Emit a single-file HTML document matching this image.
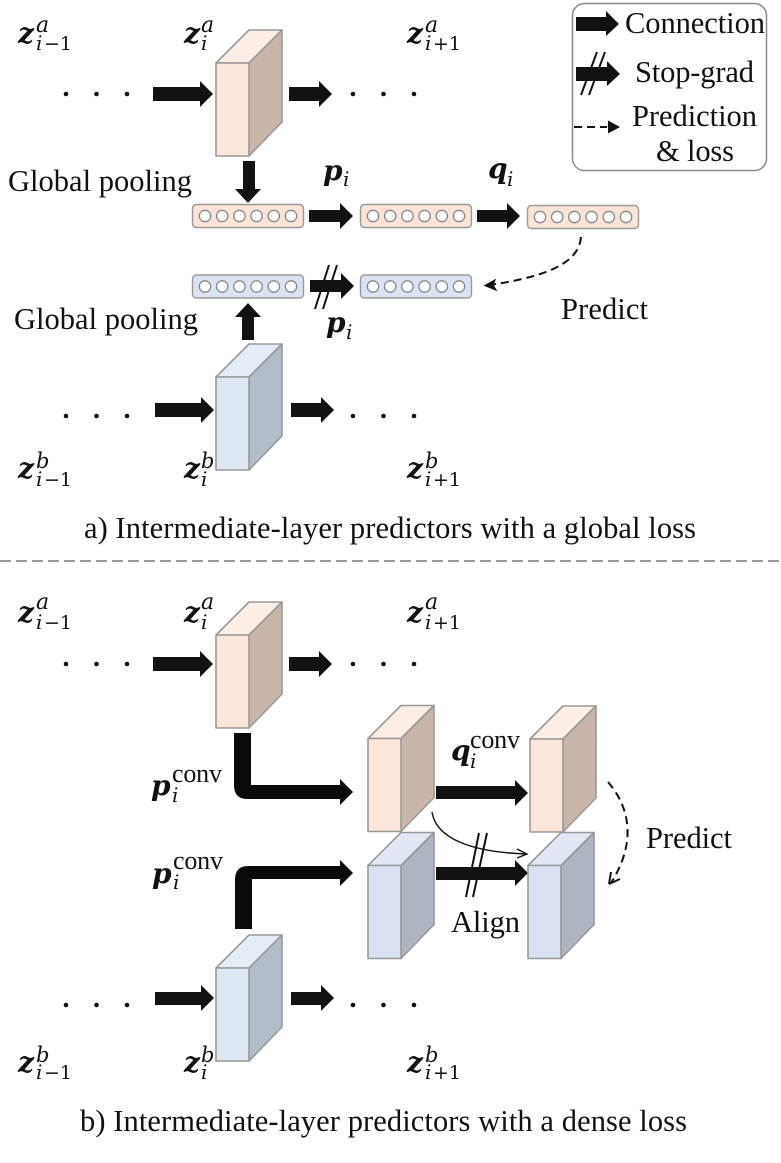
<!DOCTYPE html>
<html><head><meta charset="utf-8"><style>
html,body{margin:0;padding:0;background:#fff}
svg{display:block}
text{fill:#111;white-space:pre}
.t{font-family:"Liberation Serif",serif;font-size:30.5px}
.z{font-family:"DejaVu Serif",serif;font-weight:bold;font-style:italic;font-size:28px}
.a{font-family:"DejaVu Serif",serif;font-style:italic;font-size:22px}
.b{font-family:"DejaVu Serif",serif;font-style:italic;font-size:21px}
.s{font-family:"DejaVu Serif",serif;font-style:italic;font-size:20px}
.d{font-family:"DejaVu Serif",serif;font-size:19px}
.n{font-family:"Liberation Serif",serif;font-size:26px}
</style></head><body>
<svg xmlns="http://www.w3.org/2000/svg" width="781" height="1163" viewBox="0 0 781 1163">
<defs>
<g id="cp" stroke="#999" stroke-width="1.6" stroke-linejoin="round">
<path d="M0 33L33 0H66L33 33Z" fill="#fceee4"/><path d="M33 33L66 0V92L33 126Z" fill="#c9b6a9"/><rect x="0" y="33" width="33" height="93" fill="#fce5d9"/></g>
<g id="cb" stroke="#999" stroke-width="1.6" stroke-linejoin="round">
<path d="M0 33L33 0H66L33 33Z" fill="#e3edf7"/><path d="M33 33L66 0V92L33 126Z" fill="#b1bdc8"/><rect x="0" y="33" width="33" height="93" fill="#dde8f5"/></g>
<g id="cd" stroke="#999" stroke-width="1.6" stroke-linejoin="round">
<path d="M0 33L33 0H66L33 33Z" fill="#e1e7f4"/><path d="M33 33L66 0V92L33 126Z" fill="#adb5c3"/><rect x="0" y="33" width="33" height="93" fill="#d9e2f3"/></g>
<g id="dots" fill="#111"><circle cx="0" cy="0" r="2.3"/><circle cx="30.5" cy="0" r="2.3"/><circle cx="61" cy="0" r="2.3"/></g>
<g id="circ" fill="#fff" stroke="#8a8a8a" stroke-width="1.3"><circle cx="13" cy="12" r="5.7"/><circle cx="30.2" cy="12" r="5.7"/><circle cx="47.4" cy="12" r="5.7"/><circle cx="64.6" cy="12" r="5.7"/><circle cx="81.8" cy="12" r="5.7"/><circle cx="99" cy="12" r="5.7"/></g>
<g id="bp"><rect x="0.5" y="0.5" width="111" height="23" rx="4" fill="#fbe3d6" stroke="#9a9a9a" stroke-width="1.4"/><use href="#circ"/></g>
<g id="bb"><rect x="0.5" y="0.5" width="111" height="23" rx="4" fill="#dae3f3" stroke="#9a9a9a" stroke-width="1.4"/><use href="#circ"/></g>
</defs>

<!-- top section cubes -->
<use href="#cp" x="216" y="30"/>
<use href="#cb" x="216" y="344"/>
<!-- bars -->
<use href="#bp" x="192" y="204"/><use href="#bp" x="360" y="204"/><use href="#bp" x="527" y="205"/>
<use href="#bb" x="192" y="274.5"/><use href="#bb" x="360" y="274.5"/>
<!-- dots -->
<use href="#dots" x="66" y="94"/><use href="#dots" x="353" y="94"/>
<use href="#dots" x="66" y="416"/><use href="#dots" x="353" y="416"/>
<use href="#dots" x="66" y="664"/><use href="#dots" x="353" y="664"/>
<use href="#dots" x="66" y="1005"/><use href="#dots" x="353" y="1005"/>

<g fill="#111">
<!-- top arrows -->
<path d="M153 87H200V81L213 94L200 107V101H153Z"/>
<path d="M289 87H319V81L332 94L319 107V101H289Z"/>
<path d="M243 161H255V189H261L248 203L235 189H243Z"/>
<path d="M309 210H340V203L353 216L340 229V222H309Z"/>
<path d="M477 210H507V203L520 216L507 229V222H477Z"/>
<path d="M310 280H341V273L354 286L341 299V292H310Z"/>
<path d="M242 340H254V317H261L248 303L235 317H242Z"/>
<path d="M155 403H201V397L214 410L201 423V417H155Z"/>
<path d="M291 403H321V397L334 410L321 423V417H291Z"/>
<!-- bottom straight arrows -->
<path d="M153 657H200V651L213 664L200 677V671H153Z"/>
<path d="M289 657H319V651L332 664L319 677V671H289Z"/>
<path d="M155 992H201V985L214 998L201 1011V1005H155Z"/>
<path d="M291 992H321V985L334 998L321 1011V1005H291Z"/>
<path d="M436 786H515V780L528 793L515 806V799H436Z"/>
<path d="M436 867H515V860L528 873L515 886V880H436Z"/>
</g>
<!-- elbows -->
<path d="M234 733H251V785H340V779L353 792L340 805V799H247Q234 799 234 785Z" fill="#0a0a0a"/>
<path d="M235 929H252V879H340V886L353 873L340 860V866H248Q235 866 235 880Z" fill="#0a0a0a"/>

<!-- bottom cubes -->
<use href="#cp" x="216" y="602"/>
<use href="#cb" x="216" y="935"/>
<use href="#cp" x="368" y="705.500"/>
<use href="#cd" x="368" y="832.500"/>
<use href="#cp" x="530" y="706"/>
<use href="#cd" x="528" y="832.500"/>

<!-- stop-grad slashes -->
<g stroke="#111" stroke-width="2" fill="none">
<path d="M315 309L329 265M323 309L337 265"/>
<path d="M466 897L479 833M473 897L487 833"/>
<path d="M581 95L597 52M589 95L605 52"/>
</g>

<!-- thin curve -->
<path d="M432 812C436 838 470 852 526 854" fill="none" stroke="#111" stroke-width="1.4"/>
<path d="M517 849L527 854L517 858" fill="none" stroke="#111" stroke-width="1.4"/>

<!-- dashed predict top -->
<path d="M581 237C579 262 550 276 490 285" fill="none" stroke="#111" stroke-width="2" stroke-dasharray="8 5"/>
<path d="M485 285.500L495 280L493 285L496 290Z" fill="#111" stroke="#111" stroke-width="1.2"/>
<!-- dashed predict bottom -->
<path d="M608 782C632 810 635 845 611 883" fill="none" stroke="#111" stroke-width="2" stroke-dasharray="8 5"/>
<path d="M609 884L611 872M609 884L620 879" fill="none" stroke="#111" stroke-width="2"/>

<!-- separator -->
<line x1="0" y1="561" x2="781" y2="561" stroke="#777" stroke-width="1.6" stroke-dasharray="11 5"/>

<!-- legend -->
<rect x="572.500" y="3.500" width="194" height="167" rx="12" fill="none" stroke="#8c8c8c" stroke-width="1.5"/>
<path d="M576 17H606V11L619 24L606 36V31H576Z" fill="#111"/>
<path d="M576 67H607V61L620 74L607 86V81H576Z" fill="#111"/>
<path d="M574 127H607" stroke="#111" stroke-width="2" stroke-dasharray="8 5"/>
<path d="M608 120.500L620 127L608 133.500Z" fill="#111"/>
<text class="t" x="625" y="33" textLength="140">Connection</text>
<text class="t" x="635" y="82" textLength="119">Stop-grad</text>
<text class="t" x="632" y="126" textLength="125">Prediction</text>
<text class="t" x="656" y="161" textLength="78">&amp; loss</text>

<!-- text labels -->
<text class="t" x="8" y="191" textLength="184">Global pooling</text>
<text class="t" x="14" y="329" textLength="184">Global pooling</text>
<text class="t" x="561" y="319" textLength="87">Predict</text>
<text class="t" x="646" y="848" textLength="86">Predict</text>
<text class="t" x="451" y="932" textLength="69">Align</text>
<text class="t" x="84" y="538" textLength="612">a) Intermediate-layer predictors with a global loss</text>
<text class="t" x="80" y="1131" textLength="607">b) Intermediate-layer predictors with a dense loss</text>

<!-- math: top a -->
<text class="z" x="18" y="43">z</text><text class="a" x="36" y="32">a</text><text class="s" x="36" y="50">i</text><text class="d" x="44" y="50" textLength="28">−1</text>
<text class="z" x="184" y="43">z</text><text class="a" x="201" y="32">a</text><text class="s" x="201" y="50">i</text>
<text class="z" x="407" y="43">z</text><text class="a" x="425" y="32">a</text><text class="s" x="425" y="50">i</text><text class="d" x="433" y="50" textLength="28">+1</text>
<!-- math: top b -->
<text class="z" x="18" y="478">z</text><text class="b" x="36" y="468">b</text><text class="s" x="36" y="486">i</text><text class="d" x="44" y="486" textLength="28">−1</text>
<text class="z" x="184" y="478">z</text><text class="b" x="201" y="468">b</text><text class="s" x="201" y="486">i</text>
<text class="z" x="407" y="478">z</text><text class="b" x="425" y="468">b</text><text class="s" x="425" y="486">i</text><text class="d" x="433" y="486" textLength="28">+1</text>
<!-- math: bottom a -->
<text class="z" x="18" y="622">z</text><text class="a" x="36" y="609">a</text><text class="s" x="36" y="629">i</text><text class="d" x="44" y="629" textLength="28">−1</text>
<text class="z" x="184" y="622">z</text><text class="a" x="201" y="609">a</text><text class="s" x="201" y="629">i</text>
<text class="z" x="407" y="622">z</text><text class="a" x="425" y="609">a</text><text class="s" x="425" y="629">i</text><text class="d" x="433" y="629" textLength="28">+1</text>
<!-- math: bottom b -->
<text class="z" x="18" y="1072">z</text><text class="b" x="36" y="1062">b</text><text class="s" x="36" y="1079">i</text><text class="d" x="44" y="1079" textLength="28">−1</text>
<text class="z" x="184" y="1072">z</text><text class="b" x="201" y="1062">b</text><text class="s" x="201" y="1079">i</text>
<text class="z" x="407" y="1072">z</text><text class="b" x="425" y="1062">b</text><text class="s" x="425" y="1079">i</text><text class="d" x="433" y="1079" textLength="28">+1</text>
<!-- p, q -->
<text class="z" x="323" y="180">p</text><text class="s" x="343" y="186">i</text>
<text class="z" x="488" y="178">q</text><text class="s" x="507" y="186">i</text>
<text class="z" x="326" y="332">p</text><text class="s" x="346" y="339">i</text>
<text class="z" x="151" y="795">p</text><text class="s" x="172" y="802">i</text><text class="n" x="172" y="782" textLength="50">conv</text>
<text class="z" x="152" y="883">p</text><text class="s" x="173" y="889">i</text><text class="n" x="173" y="869" textLength="50">conv</text>
<text class="z" x="451" y="760">q</text><text class="s" x="470" y="768">i</text><text class="n" x="470" y="748" textLength="50">conv</text>
</svg>
</body></html>
